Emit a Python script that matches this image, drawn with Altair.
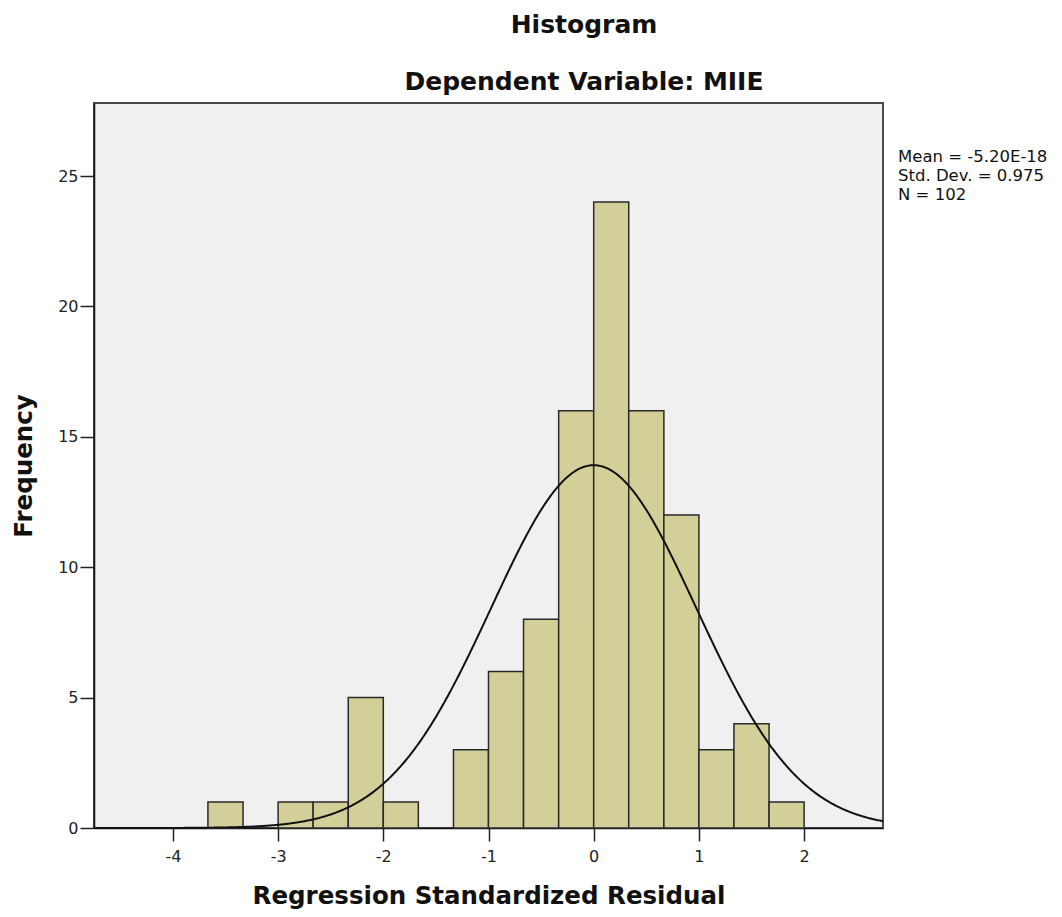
import altair as alt
import pandas as pd

# ---- data ----
bin_lo = [-3.667, -3.333, -3.000, -2.667, -2.333, -2.000, -1.667, -1.333, -1.000,
          -0.667, -0.333, 0.000, 0.333, 0.667, 1.000, 1.333, 1.667]
bin_hi = [-3.333, -3.000, -2.667, -2.333, -2.000, -1.667, -1.333, -1.000, -0.667,
          -0.333, 0.000, 0.333, 0.667, 1.000, 1.333, 1.667, 2.000]
counts = [1, 0, 1, 1, 5, 1, 0, 3, 6, 8, 16, 24, 16, 12, 3, 4, 1]

mean_val = -5.20e-18
std_val = 0.975
n_val = 102
bin_width = 1 / 3

x_ticks = [-4, -3, -2, -1, 0, 1, 2]
y_ticks = [0, 5, 10, 15, 20, 25]
x_domain = [-4.75, 2.75]
y_domain = [0, 27.8]

legend_lines = ["Mean = -5.20E-18", "Std. Dev. = 0.975", "N = 102"]
title_text = "Histogram"
subtitle_text = "Dependent Variable: MIIE"
x_title = "Regression Standardized Residual"
y_title = "Frequency"

FONT = "DejaVu Sans"
W, H = 789, 725

bars_df = pd.DataFrame({"lo": bin_lo, "hi": bin_hi, "count": counts})
bars_df = bars_df[bars_df["count"] > 0]

xscale = alt.Scale(domain=x_domain, nice=False, zero=False)
yscale = alt.Scale(domain=y_domain, nice=False)

xaxis = alt.Axis(values=x_ticks, grid=False, title=x_title, tickSize=13, labelPadding=7,
                 labelExpr="datum.value + ''",
                 labelFont=FONT, labelFontSize=16, labelColor="#222",
                 tickColor="#222", tickWidth=1.5, domainColor="#111", domainWidth=1.5,
                 titleFont=FONT, titleFontSize=24.5, titleFontWeight="bold", titleColor="#111",
                 titleX=W / 2, titleY=75, titleBaseline="alphabetic", titleAlign="center")
yaxis = alt.Axis(values=y_ticks, grid=False, title=y_title, tickSize=14, labelPadding=2,
                 labelExpr="datum.value + ''",
                 labelFont=FONT, labelFontSize=16, labelColor="#222",
                 tickColor="#222", tickWidth=1.5, domainColor="#111", domainWidth=1.5,
                 titleFont=FONT, titleFontSize=24.5, titleFontWeight="bold", titleColor="#111",
                 titleX=-63, titleY=H / 2, titleAngle=-90, titleBaseline="alphabetic",
                 titleAlign="center")

bars = alt.Chart(bars_df).mark_rect(
    fill="#D3CF98", stroke="#2a2a2a", strokeWidth=1.5
).encode(
    x=alt.X("lo:Q", scale=xscale, axis=xaxis),
    x2="hi:Q",
    y=alt.Y("count:Q", scale=yscale, axis=yaxis),
    y2=alt.datum(0),
)

curve = alt.Chart(alt.sequence(x_domain[0], x_domain[1] + 0.005, 0.01, as_="r")).transform_calculate(
    f=f"{n_val} * {bin_width} * densityNormal(datum.r, {mean_val}, {std_val})"
).mark_line(color="#111", strokeWidth=2, clip=True).encode(
    x=alt.X("r:Q", scale=xscale),
    y=alt.Y("f:Q", scale=yscale),
)

def label(text, x, y, size, weight="normal", align="center"):
    return alt.Chart(pd.DataFrame({"t": [text]})).mark_text(
        font=FONT, fontSize=size, fontWeight=weight, align=align,
        baseline="alphabetic", color="#111", clip=False
    ).encode(text="t:N", x=alt.value(x), y=alt.value(y))

texts = [
    label(title_text, 490, -70, 25, "bold"),
    label(subtitle_text, 490, -13, 25, "bold"),
]
for i, line in enumerate(legend_lines):
    texts.append(label(line, 804, 59 + 19 * i, 16.5, align="left"))

chart = alt.layer(bars, curve, *texts).properties(
    width=W, height=H,
    autosize=alt.AutoSizeParams(type="none"),
    padding={"left": 86, "top": 95, "right": 170, "bottom": 81},
    view=alt.ViewBackground(fill="#F0F0F0", stroke="#4a4a4a", strokeWidth=2),
).configure(background="white")

chart.save("out.html", embed_options={"renderer": "svg", "actions": False})
